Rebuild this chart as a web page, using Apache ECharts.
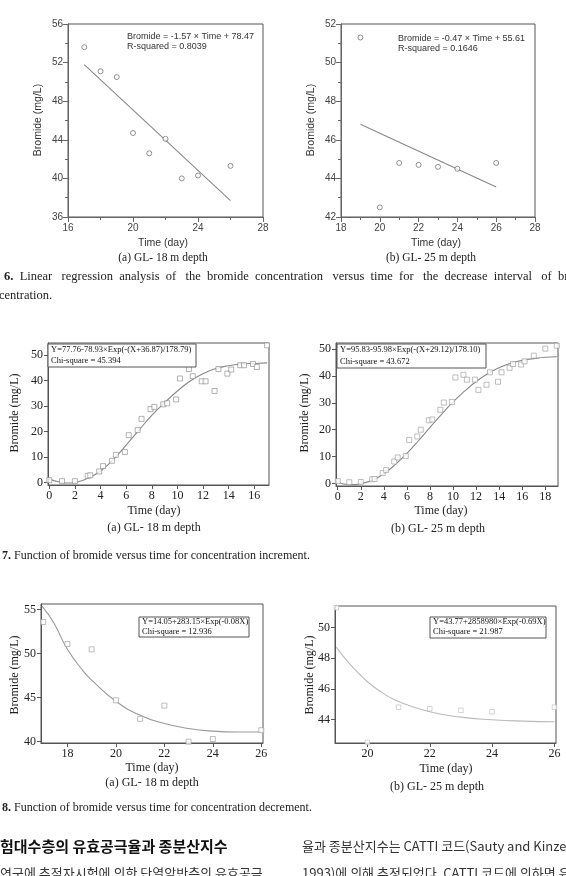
<!DOCTYPE html>
<html>
<head>
<meta charset="utf-8">
<script src="https://cdn.jsdelivr.net/npm/echarts@6/dist/echarts.min.js"></script>
<style>
  html, body { margin: 0; padding: 0; background: #fff; }
  #page { width: 566px; height: 876px; }
</style>
</head>
<body>
<div id="page"></div>
<script>
// Fig 6 / Fig 8 : decrease interval
const decAtime = [17, 18, 19, 20, 21, 22, 23, 24, 26];
const decAbromide = [53.6, 51.1, 50.5, 44.7, 42.6, 44.1, 40.0, 40.3, 41.3];
const decBtime = [19, 20, 21, 22, 23, 24, 26];
const decBbromide = [51.3, 42.5, 44.8, 44.7, 44.6, 44.5, 44.8];

const fig6aFitTime = [17, 26];
const fig6aFitBromide = [51.8, 37.7];
const fig6bFitTime = [19, 26];
const fig6bFitBromide = [46.8, 43.55];

// Fig 7 : increment interval
const incAtime = [0, 1, 2, 3, 3.2, 3.9, 4.2, 4.9, 5.2, 5.9, 6.2, 6.9, 7.2, 7.9, 8.2, 8.9, 9.2, 9.9,
  10.2, 10.9, 11.2, 11.9, 12.2, 12.9, 13.2, 13.9, 14.2, 14.9, 15.2, 15.9, 16.2, 17];
const incAbromide = [1.0, 0.6, 0.6, 2.7, 2.9, 4.4, 6.5, 8.6, 10.9, 12.0, 18.6, 20.6, 25.0, 28.8, 29.7, 30.7, 31.1, 32.6,
  40.8, 44.5, 41.7, 39.7, 39.7, 35.9, 44.5, 42.7, 44.3, 46.0, 46.0, 46.5, 45.3, 53.8];
const incAcurveTime = [0, 0.7, 1.35, 2, 3, 4, 5, 6, 7, 8, 9, 10, 11, 12, 13, 14, 15, 16, 17];
const incAcurveBromide = [1.4, 0.4, -0.1, 0.1, 1.7, 4.6, 9.1, 14.7, 20.6, 26.4, 31.3, 35.9, 39.8, 42.7, 44.7, 45.8, 46.5, 46.7, 46.9];

const incBtime = [0, 1, 2, 3, 3.2, 3.9, 4.2, 4.9, 5.2, 5.9, 6.2, 6.9, 7.2, 7.9, 8.2, 8.9, 9.2, 9.9,
  10.2, 10.9, 11.2, 11.9, 12.2, 12.9, 13.2, 13.9, 14.2, 14.9, 15.2, 15.9, 16.2, 17, 18, 19];
const incBbromide = [0.9, 0.5, 0.6, 1.6, 1.7, 3.9, 5.0, 8.2, 9.7, 10.2, 16.2, 17.5, 20.0, 23.5, 23.8, 27.4, 30.1, 30.3,
  39.4, 40.4, 38.6, 38.6, 34.8, 36.7, 41.3, 37.8, 41.3, 43.0, 44.4, 44.2, 45.4, 47.5, 50.1, 51.2];
const incBcurveTime = [0, 1, 1.5, 2, 3, 4, 5, 6, 7, 8, 9, 10, 11, 12, 13, 14, 15, 16, 17, 18, 19];
const incBcurveBromide = [0.5, -0.4, -0.4, 0, 1.2, 3.7, 7.1, 11.2, 15.9, 20.9, 25.7, 30.3, 34.3, 37.9, 40.8, 43.0, 44.7, 45.8, 46.4, 46.9, 47.1];

const fig8aCurveTime = [16.95, 17.44, 18, 18.67, 19, 20, 21, 22, 23, 24, 25, 26];
const fig8aCurveBromide = [55.4, 53.5, 50.5, 47.96, 47.0, 44.6, 43.0, 42.06, 41.5, 41.2, 41.1, 41.1];
const fig8bCurveTime = [19, 19.43, 20, 20.5, 21, 22, 23, 24, 25, 26];
const fig8bCurveBromide = [48.72, 47.63, 46.46, 45.72, 45.17, 44.5, 44.15, 43.98, 43.89, 43.85];

// tick labels
const ticks7aX = [0, 2, 4, 6, 8, 10, 12, 14, 16];
const ticks7bX = [0, 2, 4, 6, 8, 10, 12, 14, 16, 18];
const ticks7Y = [0, 10, 20, 30, 40, 50];
const ticks8aX = [18, 20, 22, 24, 26];
const ticks8aY = [40, 45, 50, 55];
const ticks8bX = [20, 22, 24, 26];
const ticks8bY = [44, 46, 48, 50];

const SANS = '"Liberation Sans", Arial, sans-serif';
const SERIF = '"Liberation Serif", "Times New Roman", serif';
const KR = '"Noto Sans CJK KR", sans-serif';

const chart = echarts.init(document.getElementById("page"));

function zip(xs, ys) {
  return xs.map((x, i) => [x, ys[i]]);
}

// fig 6 style axes (sans, interval + minor ticks)
function axis6(i, dim, min, max, interval) {
  return {
    type: "value",
    gridIndex: i,
    min: min,
    max: max,
    interval: interval,
    axisLine: { show: true, onZero: false, lineStyle: { color: "#666", width: 1 } },
    axisTick: { show: true, length: 5, lineStyle: { color: "#666" } },
    minorTick: { show: true, splitNumber: 2, length: 3, lineStyle: { color: "#666" } },
    splitLine: { show: false },
    axisLabel: { fontFamily: SANS, fontSize: 10, color: "#444", margin: dim === "x" ? 6 : 5 },
  };
}

// fig 7/8 style axes (serif, custom ticks)
function axis78(i, min, max, values) {
  return {
    type: "value",
    gridIndex: i,
    min: min,
    max: max,
    axisLine: { show: true, onZero: false, lineStyle: { color: "#555", width: 1 } },
    axisTick: { show: true, length: 4, customValues: values, lineStyle: { color: "#555" } },
    splitLine: { show: false },
    axisLabel: { fontFamily: SERIF, fontSize: 12, color: "#222", margin: 5, customValues: values },
  };
}

function scatter(i, xs, ys, symbol, color, size) {
  return {
    type: "scatter",
    xAxisIndex: i,
    yAxisIndex: i,
    data: zip(xs, ys),
    symbol: symbol,
    symbolSize: size,
    itemStyle: { color: "#fff", borderColor: color, borderWidth: 0.8 },
    silent: true,
    z: 3,
  };
}

function curve(i, xs, ys, color, smooth) {
  return {
    type: "line",
    xAxisIndex: i,
    yAxisIndex: i,
    data: zip(xs, ys),
    smooth: smooth,
    showSymbol: false,
    lineStyle: { color: color, width: 1.1 },
    silent: true,
    z: 2,
  };
}

function txt(x, y, text, font, opts) {
  const o = opts || {};
  return {
    type: "text",
    x: x,
    y: y,
    rotation: o.rot || 0,
    silent: true,
    style: {
      text: text,
      font: font,
      fill: o.fill || "#222",
      align: o.align || "center",
      verticalAlign: "middle",
      rich: o.rich,
    },
  };
}

function box(x, y, w, h) {
  return {
    type: "rect",
    shape: { x: x, y: y, width: w, height: h },
    silent: true,
    style: { fill: "#fff", stroke: "#555", lineWidth: 1 },
    z: 10,
  };
}

function boxText(x, y, text) {
  const t = txt(x, y, text, "8.5px " + SERIF, { align: "left", fill: "#111" });
  t.z = 11;
  return t;
}

const grids = [
  { left: 68, top: 24, width: 195, height: 193 },
  { left: 341, top: 24, width: 194, height: 193 },
  { left: 48, top: 343, width: 221, height: 142 },
  { left: 336, top: 343, width: 222, height: 143 },
  { left: 41, top: 604, width: 222, height: 139 },
  { left: 335, top: 606, width: 221, height: 137 },
].map((g) => Object.assign({ show: true, borderColor: "#555", borderWidth: 1, backgroundColor: "transparent" }, g));

const option = {
  backgroundColor: "#fff",
  animation: false,
  grid: grids,
  xAxis: [
    axis6(0, "x", 16, 28, 4),
    axis6(1, "x", 18, 28, 2),
    axis78(2, -0.1, 17.15, ticks7aX),
    axis78(3, -0.15, 19.1, ticks7bX),
    axis78(4, 16.91, 26.07, ticks8aX),
    axis78(5, 18.96, 26.05, ticks8bX),
  ],
  yAxis: [
    axis6(0, "y", 36, 56, 4),
    axis6(1, "y", 42, 52, 2),
    axis78(2, -0.9, 54.7, ticks7Y),
    axis78(3, -0.9, 52.2, ticks7Y),
    axis78(4, 39.85, 55.65, ticks8aY),
    axis78(5, 42.46, 51.41, ticks8bY),
  ],
  series: [
    curve(0, fig6aFitTime, fig6aFitBromide, "#888", false),
    scatter(0, decAtime, decAbromide, "circle", "#555", 5),
    curve(1, fig6bFitTime, fig6bFitBromide, "#888", false),
    scatter(1, decBtime, decBbromide, "circle", "#555", 5),
    curve(2, incAcurveTime, incAcurveBromide, "#888", true),
    scatter(2, incAtime, incAbromide, "rect", "#888", 5),
    curve(3, incBcurveTime, incBcurveBromide, "#888", true),
    scatter(3, incBtime, incBbromide, "rect", "#999", 5),
    curve(4, fig8aCurveTime, fig8aCurveBromide, "#999", true),
    scatter(4, decAtime, decAbromide, "rect", "#999", 5),
    curve(5, fig8bCurveTime, fig8bCurveBromide, "#bbb", true),
    scatter(5, decBtime, decBbromide, "rect", "#bbb", 4.5),
  ],
  graphic: [
    // Fig 6a
    txt(127, 37, "Bromide = -1.57 \u00d7 Time + 78.47", "9px " + SANS, { align: "left", fill: "#333" }),
    txt(127, 47, "R-squared = 0.8039", "9px " + SANS, { align: "left", fill: "#333" }),
    txt(38, 120, "Bromide (mg/L)", "10.5px " + SANS, { rot: Math.PI / 2, fill: "#333" }),
    txt(163, 243, "Time (day)", "10.5px " + SANS, { fill: "#333" }),
    txt(163, 258, "(a) GL- 18 m depth", "11.5px " + SERIF),
    // Fig 6b
    txt(398, 39, "Bromide = -0.47 \u00d7 Time + 55.61", "9px " + SANS, { align: "left", fill: "#333" }),
    txt(398, 49, "R-squared = 0.1646", "9px " + SANS, { align: "left", fill: "#333" }),
    txt(311, 120, "Bromide (mg/L)", "10.5px " + SANS, { rot: Math.PI / 2, fill: "#333" }),
    txt(436, 243, "Time (day)", "10.5px " + SANS, { fill: "#333" }),
    txt(431, 258, "(b) GL- 25 m depth", "11.5px " + SERIF),
    // Fig 6 caption (justified line)
    txt(4, 277, "{b|6.}  Linear   regression  analysis  of   the  bromide  concentration   versus  time  for   the  decrease  interval   of  bro",
      "12.5px " + SERIF, { align: "left", rich: { b: { font: "bold 12.5px " + SERIF, fill: "#222" } } }),
    txt(-1, 296, "centration.", "12.5px " + SERIF, { align: "left" }),
    // Fig 7a
    box(48, 344, 148, 23),
    boxText(51, 350, "Y=77.76-78.93\u00d7Exp(-(X+36.87)/178.79)"),
    boxText(51, 361, "Chi-square = 45.394"),
    txt(15, 413, "Bromide (mg/L)", "12px " + SERIF, { rot: Math.PI / 2 }),
    txt(154, 511, "Time (day)", "12px " + SERIF),
    txt(154, 528, "(a) GL- 18 m depth", "12px " + SERIF),
    // Fig 7b
    box(337, 344, 149, 24),
    boxText(340, 350, "Y=95.83-95.98\u00d7Exp(-(X+29.12)/178.10)"),
    boxText(340, 362, "Chi-square = 43.672"),
    txt(305, 413, "Bromide (mg/L)", "12px " + SERIF, { rot: Math.PI / 2 }),
    txt(441, 511, "Time (day)", "12px " + SERIF),
    txt(438, 529, "(b) GL- 25 m depth", "12px " + SERIF),
    // Fig 7 caption
    txt(2, 556, "{b|7.} Function of bromide versus time for concentration increment.", "12px " + SERIF,
      { align: "left", rich: { b: { font: "bold 12px " + SERIF, fill: "#222" } } }),
    // Fig 8a
    box(139, 617, 110, 20),
    boxText(142, 622, "Y=14.05+283.15\u00d7Exp(-0.08X)"),
    boxText(142, 632, "Chi-square = 12.936"),
    txt(15, 675, "Bromide (mg/L)", "12px " + SERIF, { rot: Math.PI / 2 }),
    txt(152, 768, "Time (day)", "12px " + SERIF),
    txt(152, 783, "(a) GL- 18 m depth", "12px " + SERIF),
    // Fig 8b
    box(430, 617, 116, 21),
    boxText(433, 622, "Y=43.77+2858980\u00d7Exp(-0.69X)"),
    boxText(433, 632, "Chi-square = 21.987"),
    txt(310, 675, "Bromide (mg/L)", "12px " + SERIF, { rot: Math.PI / 2 }),
    txt(446, 769, "Time (day)", "12px " + SERIF),
    txt(437, 787, "(b) GL- 25 m depth", "12px " + SERIF),
    // Fig 8 caption
    txt(2, 808, "{b|8.} Function of bromide versus time for concentration decrement.", "12px " + SERIF,
      { align: "left", rich: { b: { font: "bold 12px " + SERIF, fill: "#222" } } }),
    // Korean body text (cut at page edges)
    txt(0, 846, "험대수층의 유효공극율과 종분산지수", "bold 15px " + KR, { align: "left", fill: "#111" }),
    txt(0, 873, "연구에 추적자시험에 의한 단열암반층의 유효공극", "13px " + KR, { align: "left", fill: "#333" }),
    txt(302, 846, "율과 종분산지수는 CATTI 코드(Sauty and Kinze", "13px " + KR, { align: "left", fill: "#333" }),
    txt(302, 873, "1993)에 의해 추정되었다. CATTI 코드에 의하면 유", "13px " + KR, { align: "left", fill: "#333" }),
  ],
};

chart.setOption(option);
window.onresize = function () {
  chart.resize();
};
</script>
</body>
</html>
